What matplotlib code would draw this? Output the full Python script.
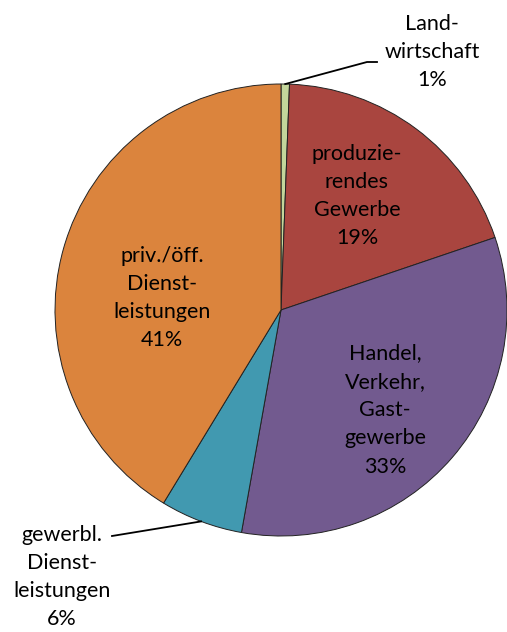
import matplotlib.pyplot as plt
import numpy as np

# sector shares (percent)
sectors = ['Land-\nwirtschaft', 'produzie-\nrendes\nGewerbe', 'Handel,\nVerkehr,\nGast-\ngewerbe',
           'gewerbl.\nDienst-\nleistungen', 'priv./öff.\nDienst-\nleistungen']
shares = [0.6, 19.2, 33.0, 5.9, 41.3]
shown_pct = ['1%', '19%', '33%', '6%', '41%']
colors = ['#c3d69b', '#a9453f', '#725a8f', '#4199b0', '#db843d']

W, H = 507, 632
fig = plt.figure(figsize=(W / 100, H / 100), dpi=100)
ax = fig.add_axes([0, 0, 1, 1])

center = (281, H - 310)
R = 226
wedges, _ = ax.pie(shares, colors=colors, startangle=90, counterclock=False,
                   center=center, radius=R, frame=True,
                   wedgeprops=dict(edgecolor='#222222', linewidth=0.7))
ax.set_xlim(0, W)
ax.set_ylim(0, H)
ax.set_aspect('equal')
ax.axis('off')

font = dict(family='Lato', fontsize=15.5, color='black', ha='center', va='center',
            linespacing=1.52)

# label positions (pixel coords, y from top)
label_pos = [(432, 52), (357, 196), (385, 410), (62, 577), (162, 298)]
for i, (name, pct) in enumerate(zip(sectors, shown_pct)):
    x, y = label_pos[i]
    ax.text(x, H - y, name + '\n' + pct, **font)


def edge_point(w):
    a = np.deg2rad((w.theta1 + w.theta2) / 2)
    return center[0] + R * np.cos(a), center[1] + R * np.sin(a)


# leader line for Landwirtschaft
x0, y0 = edge_point(wedges[0])
ax.plot([x0, 367, 377], [y0, H - 62, H - 62], color='black', lw=1.3)

# leader line for gewerbl. Dienstleistungen
x0, y0 = edge_point(wedges[3])
ax.plot([x0, 112], [y0, H - 536], color='black', lw=1.3)

fig.savefig('out.png', dpi=100)
